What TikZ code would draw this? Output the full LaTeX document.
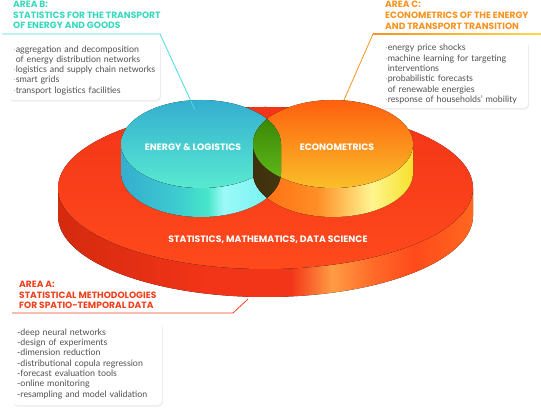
\documentclass[tikz,border=0pt]{standalone}
\usepackage{fontspec}
\setmainfont{Lato}
\newfontfamily\headfont{Poppins}
\usetikzlibrary{positioning,shadows}

\newcommand{\bul}{$\cdot$}

\definecolor{areaB}{HTML}{3AD8BE}
\definecolor{areaC}{HTML}{F7931E}
\definecolor{areaA}{HTML}{F0401E}
\definecolor{bodygray}{HTML}{505050}
\definecolor{lineB}{HTML}{45DCE2}
\definecolor{lineCend}{HTML}{FFD84A}

% side bands of the three discs
\definecolor{dA}{HTML}{D42A0E}
\definecolor{dB}{HTML}{F23418}
\definecolor{dC}{HTML}{FF4A1C}
\definecolor{dHi}{HTML}{FF9C44}
\definecolor{dD}{HTML}{FF6A28}
\definecolor{dE}{HTML}{FF681E}
\pgfdeclarehorizontalshading{discside}{100bp}{color(0bp)=(dA); color(25bp)=(dA); color(43bp)=(dB); color(53bp)=(dB); color(58bp)=(dHi); color(63bp)=(dD); color(68bp)=(dC); color(75bp)=(dE); color(100bp)=(dE)}

\definecolor{cA}{HTML}{34AECF}
\definecolor{cB}{HTML}{3ECCD0}
\definecolor{cC}{HTML}{48E6C8}
\definecolor{cHi}{HTML}{9CFAF8}
\definecolor{cD}{HTML}{6CF0F0}
\pgfdeclarehorizontalshading{cyanside}{100bp}{color(0bp)=(cA); color(25bp)=(cA); color(43bp)=(cB); color(52bp)=(cC); color(57bp)=(cHi); color(75bp)=(cD); color(100bp)=(cD)}

\definecolor{oA}{HTML}{FF6A10}
\definecolor{oB}{HTML}{FF8E26}
\definecolor{oHi}{HTML}{FFF590}
\definecolor{oD}{HTML}{F6E02C}
\pgfdeclarehorizontalshading{orangeside}{100bp}{color(0bp)=(oA); color(25bp)=(oA); color(45bp)=(oB); color(62bp)=(oHi); color(75bp)=(oD); color(100bp)=(oD)}

\definecolor{gA}{HTML}{2E7A04}
\definecolor{gB}{HTML}{66BE1A}
\definecolor{bA}{HTML}{3E300C}
\definecolor{bB}{HTML}{5E5414}

\begin{document}
\begin{tikzpicture}[
  x=1pt, y=1pt,
  title/.style={
    font=\headfont\bfseries\fontsize{9.1}{10.7}\selectfont,
    align=left,
    inner sep=0pt,
    anchor=north west
  },
  listbox/.style={
    fill=white,
    rounded corners=5pt,
    drop shadow={opacity=0.15, shadow xshift=1pt, shadow yshift=-1.5pt},
    font=\fontsize{8.85}{10.3}\selectfont,
    text=bodygray,
    align=left,
    inner xsep=5pt,
    anchor=north west
  },
  caption/.style={font=\headfont\bfseries\fontsize{9.3}{10}\selectfont, text=white},
  leader/.style={line width=0.8pt}
]
\useasboundingbox (0,0) rectangle (541,420);

% base disc
\fill[shading=discside] (58,232) -- (58,204)
  arc[start angle=180, end angle=360, x radius=207.5, y radius=81] -- (473,232)
  arc[start angle=0, end angle=-180, x radius=207.5, y radius=81] -- cycle;
\fill[top color=dB, bottom color=dC] (265.5,232) ellipse[x radius=207.5, y radius=81];

% cyan cylinder
\fill[shading=cyanside] (121,276) -- (121,247)
  arc[start angle=180, end angle=360, x radius=80, y radius=44] -- (281,276)
  arc[start angle=0, end angle=-180, x radius=80, y radius=44] -- cycle;
\fill[top color=cA, bottom color=cC!80!cHi] (201,276) ellipse[x radius=80, y radius=44];

% orange cylinder
\fill[shading=orangeside] (253,276) -- (253,247)
  arc[start angle=180, end angle=360, x radius=80, y radius=44] -- (413,276)
  arc[start angle=0, end angle=-180, x radius=80, y radius=44] -- cycle;
\fill[top color=oA!90!red, bottom color=oD!60!oB] (333,276) ellipse[x radius=80, y radius=44];

% overlap
\begin{scope}
  \clip (121,276) arc[start angle=180, end angle=0, x radius=80, y radius=44] -- (281,247)
    arc[start angle=0, end angle=-180, x radius=80, y radius=44] -- cycle;
  \fill[left color=bA, right color=bB] (253,276) -- (253,247)
    arc[start angle=180, end angle=360, x radius=80, y radius=44] -- (413,276)
    arc[start angle=0, end angle=-180, x radius=80, y radius=44] -- cycle;
  \fill[top color=gA, bottom color=gB] (333,276) ellipse[x radius=80, y radius=44];
\end{scope}

\node[caption] (energy) at (193,273) {ENERGY \& LOGISTICS};
\node[caption] (econ) at (337,273) {ECONOMETRICS};
\node[caption] (disc) at (268,180) {STATISTICS, MATHEMATICS, DATA SCIENCE};

% area B
\node[title, text=areaB] (btitle) at (13,419) {AREA B:\\STATISTICS FOR THE TRANSPORT\\OF ENERGY AND GOODS};
\coordinate (bstart) at (2,386);
\coordinate (bknee) at (160,386);
\coordinate (bpin) at (195,310);
\draw[leader, lineB] (bstart) -- (bknee) -- (bpin);
\node[listbox, text width=142pt, minimum width=152pt, minimum height=60pt] (bbox) at (8,380) {%
\bul aggregation and decomposition\\
\hphantom{\bul}of energy distribution networks\\
\bul logistics and supply chain networks\\
\bul smart grids\\
\bul transport logistics facilities};

% area C
\node[title, text=areaC] (ctitle) at (385,419) {AREA C:\\ECONOMETRICS OF THE ENERGY\\AND TRANSPORT TRANSITION};
\coordinate (cknee) at (373,386);
\coordinate (cend) at (541,386);
\coordinate (cpin) at (344,320);
\shade[left color=areaC, right color=lineCend] ([yshift=-0.4pt]cknee) rectangle ([yshift=0.4pt]cend);
\draw[leader, areaC] (cknee) -- (cpin);
\node[listbox, text width=138pt, minimum width=148pt, minimum height=68pt] (cbox) at (380,380) {%
\bul energy price shocks\\
\bul machine learning for targeting\\
\hphantom{\bul}interventions\\
\bul probabilistic forecasts\\
\hphantom{\bul}of renewable energies\\
\bul response of households’ mobility};

% area A
\node[title, text=areaA] (atitle) at (19,139) {AREA A:\\STATISTICAL METHODOLOGIES\\FOR SPATIO-TEMPORAL DATA};
\coordinate (astart) at (12,107);
\coordinate (aknee) at (233,107);
\coordinate (apin) at (248,121);
\draw[leader, areaA] (astart) -- (aknee) -- (apin);
\node[listbox, text width=140pt, minimum width=150pt, minimum height=83pt, inner xsep=5pt] (abox) at (12,98) {%
-deep neural networks\\
-design of experiments\\
-dimension reduction\\
-distributional copula regression\\
-forecast evaluation tools\\
-online monitoring\\
-resampling and model validation};

\end{tikzpicture}
\end{document}
